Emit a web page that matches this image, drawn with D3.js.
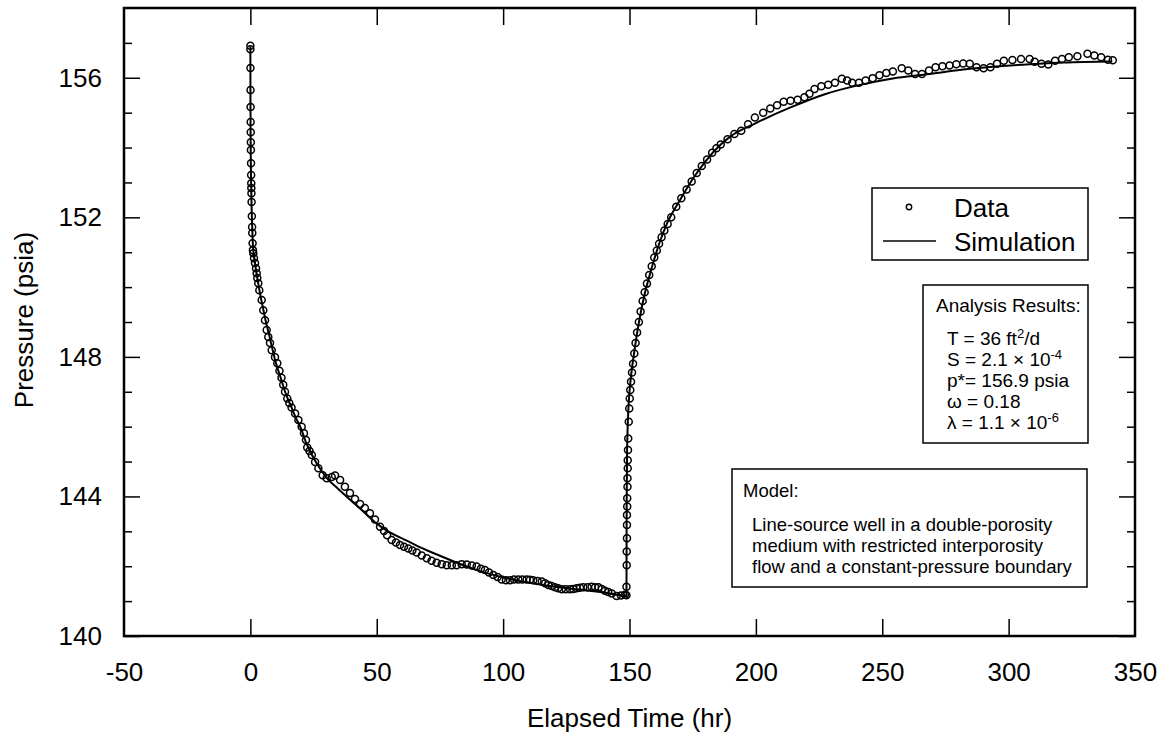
<!DOCTYPE html>
<html>
<head>
<meta charset="utf-8">
<script src="https://cdn.jsdelivr.net/npm/d3@7"></script>
<style>
  body { margin: 0; background: #fff; }
  svg { font-family: "Liberation Sans", Arial, Helvetica, sans-serif; }
</style>
</head>
<body>
<svg id="chart" width="1166" height="742"></svg>
<script>
// measured data (elapsed time, hr / pressure, psia)
const dataTime = [
  0, 0.01, 0.03, 0.06, 0.09, 0.12, 0.15, 0.18, 0.21, 0.26, 0.31, 0.35, 0.38, 0.42, 0.48, 0.58, 0.68, 0.75, 0.88, 1.0,
  1.16, 1.43, 1.83, 2.23, 2.5, 2.74, 3.13, 3.53, 4.48, 5.11, 5.79, 6.46, 7.09, 7.76, 8.44, 9.74, 10.65, 11.5, 12.3, 13.0,
  13.7, 14.6, 15.4, 16.3, 17.7, 19.0, 20.3, 21.2, 22.0, 22.5, 23.4, 24.3, 25.6, 26.9, 28.6, 30.2, 32.2, 33.5, 35.5, 37.4,
  39.4, 41.4, 43.4, 45.3, 47.3, 49.3, 51.3, 52.9, 54.1, 55.9, 57.6, 59.2, 60.8, 62.5, 64.1, 65.8, 67.8, 69.8, 71.7, 73.7,
  75.7, 77.7, 79.7, 81.6, 83.6, 85.6, 87.6, 89.5, 91.2, 92.8, 94.4, 96.1, 97.8, 99.4, 101.1, 102.7, 104.3, 106.0, 107.6, 109.3,
  110.6, 111.9, 113.6, 115.3, 116.6, 117.9, 119.2, 120.5, 121.8, 123.2, 124.8, 126.5, 127.8, 129.1, 130.4, 131.7, 133.4, 135.0, 136.4, 137.7,
  139.0, 140.3, 141.6, 143.0, 144.9, 146.6, 148.2,
  148.8, 148.8, 148.9, 148.9, 149.0, 149.0, 149.0, 149.1, 149.1, 149.2, 149.2, 149.3, 149.3, 149.4, 149.5, 149.7, 149.9, 150.1, 150.3, 150.6,
  151.0, 151.4, 151.9, 152.4, 153.0, 153.7, 154.4, 155.2, 156.0, 156.9, 157.8, 158.8, 159.8, 160.8, 161.7, 162.7, 163.8, 165.1, 166.5, 168.5,
  170.5, 172.6, 174.6, 176.6, 178.6, 180.7, 182.7, 184.4, 186.1, 188.8, 191.5, 194.2, 196.9, 199.6, 202.9, 205.7, 208.4, 211.0, 213.7, 216.5,
  219.2, 221.2, 223.2, 225.9, 228.6, 231.3, 234.0, 236.1, 238.1, 240.8, 243.4, 246.2, 248.9, 251.6, 254.2, 257.7, 260.3, 263.0, 265.7, 268.5,
  271.1, 273.8, 276.6, 279.3, 282.0, 284.6, 287.3, 290.1, 292.8, 295.4, 298.1, 301.5, 304.9, 308.3, 310.3, 313.0, 315.7, 318.4, 321.1, 323.8,
  327.2, 331.2, 333.9, 336.6, 339.3, 341.2
];
const dataPressure = [
  156.92, 156.82, 156.28, 155.65, 155.16, 154.73, 154.44, 154.15, 153.93, 153.55, 153.21, 152.98, 152.84, 152.69, 152.44, 152.03, 151.72, 151.55, 151.26, 151.06,
  150.97, 150.83, 150.69, 150.54, 150.40, 150.26, 150.11, 149.91, 149.63, 149.34, 149.05, 148.77, 148.57, 148.40, 148.19, 147.99, 147.82, 147.6, 147.4, 147.2,
  147.0, 146.81, 146.68, 146.55, 146.38, 146.19, 146.0, 145.81, 145.62, 145.4, 145.3, 145.19, 144.99, 144.81, 144.61, 144.52, 144.56, 144.6, 144.47, 144.28,
  144.10, 143.93, 143.78, 143.67, 143.52, 143.34, 143.13, 143.01, 142.89, 142.75, 142.68, 142.61, 142.56, 142.51, 142.45, 142.39, 142.31, 142.23, 142.16, 142.10,
  142.06, 142.03, 142.03, 142.03, 142.06, 142.05, 142.02, 141.99, 141.93, 141.89, 141.82, 141.75, 141.69, 141.62, 141.60, 141.60, 141.62, 141.62, 141.62, 141.62,
  141.61, 141.60, 141.58, 141.56, 141.51, 141.46, 141.43, 141.40, 141.37, 141.34, 141.34, 141.34, 141.35, 141.37, 141.38, 141.40, 141.40, 141.41, 141.40, 141.40,
  141.35, 141.30, 141.26, 141.22, 141.15, 141.16, 141.18,
  141.17, 141.41, 142.03, 142.42, 142.80, 143.18, 143.47, 143.71, 143.95, 144.28, 144.52, 144.81, 145.04, 145.33, 145.66, 146.14, 146.52, 146.81, 147.05, 147.29,
  147.55, 147.8, 148.1, 148.4, 148.7, 149.0, 149.3, 149.6, 149.85, 150.1, 150.35, 150.6, 150.85, 151.05, 151.24, 151.43, 151.62, 151.81, 152.0, 152.3,
  152.55, 152.8, 153.03, 153.27, 153.47, 153.66, 153.85, 153.98, 154.09, 154.24, 154.39, 154.48, 154.67, 154.86, 155.0, 155.12, 155.21, 155.31, 155.34, 155.37,
  155.44, 155.54, 155.68, 155.76, 155.8, 155.86, 155.97, 155.92, 155.86, 155.86, 155.92, 155.99, 156.07, 156.14, 156.18, 156.27, 156.21, 156.11, 156.11, 156.21,
  156.3, 156.33, 156.35, 156.39, 156.41, 156.4, 156.3, 156.27, 156.3, 156.4, 156.49, 156.51, 156.54, 156.54, 156.46, 156.4, 156.38, 156.49, 156.54, 156.59,
  156.62, 156.69, 156.64, 156.59, 156.52, 156.5
];

// simulated curve
const simTime = [
  0, 0.02, 0.05, 0.1, 0.2, 0.3, 0.5, 0.7, 1.0, 1.5, 2, 3, 4, 5, 6, 7, 8, 10, 12, 14,
  16, 18, 20, 22, 25, 28, 30, 35, 40, 45, 50, 55, 60, 65, 70, 75, 80, 90, 100, 110,
  120, 130, 140, 148.8,
  148.85, 148.9, 149.0, 149.2, 149.5, 150, 150.6, 151.5, 152.5, 154, 156, 158, 160, 162, 165, 170, 175, 180, 186, 190,
  200, 213.7, 227.3, 240.8, 254.2, 267.8, 281.3, 294.8, 308.3, 321.8, 341
];
const simPressure = [
  156.9, 156.0, 155.1, 154.3, 153.45, 152.95, 152.25, 151.75, 151.2, 150.85, 150.6, 150.15, 149.75, 149.4, 149.05, 148.75, 148.45, 147.85, 147.4, 146.95,
  146.6, 146.25, 145.95, 145.55, 145.1, 144.75, 144.55, 144.2, 143.87, 143.55, 143.22, 142.98, 142.8, 142.62, 142.45, 142.3, 142.15, 141.88, 141.68, 141.53,
  141.42, 141.33, 141.25, 141.15,
  143.0, 144.0, 145.0, 145.8, 146.4, 147.0, 147.45, 147.95, 148.45, 149.1, 149.8, 150.35, 150.85, 151.3, 151.85, 152.5, 153.1, 153.6, 154.08, 154.32,
  154.7, 155.15, 155.53, 155.79, 155.98, 156.1, 156.23, 156.32, 156.39, 156.44, 156.47
];

const xTicks = [-50, 0, 50, 100, 150, 200, 250, 300, 350];
const yTicks = [140, 144, 148, 152, 156];
const yMinorTicks = [141, 142, 143, 145, 146, 147, 149, 150, 151, 153, 154, 155, 157];

const analysisLines = [
  ["T = 36 ft", "2", "/d"],
  ["S = 2.1 \u00d7 10", "-4", ""],
  ["p*= 156.9 psia", "", ""],
  ["\u03c9 = 0.18", "", ""],
  ["\u03bb = 1.1 \u00d7 10", "-6", ""]
];
const modelLines = [
  "Line-source well in a double-porosity",
  "medium with restricted interporosity",
  "flow and a constant-pressure boundary"
];

const svg = d3.select("#chart");
const plotLeft = 124, plotRight = 1135, plotTop = 8, plotBottom = 636;

const x = d3.scaleLinear().domain([-50, 350]).range([plotLeft, plotRight]);
const y = d3.scaleLinear().domain([140, 158]).range([plotBottom, plotTop]);

const data = dataTime.map((t, i) => ({t: t, p: dataPressure[i]}));
const sim = simTime.map((t, i) => ({t: t, p: simPressure[i]}));

// axes, ticks pointing inward
const inner = xTicks.filter(d => d > -50 && d < 350);

svg.append("g")
  .attr("transform", `translate(0,${plotBottom})`)
  .call(d3.axisBottom(x).tickValues(xTicks).tickSize(0).tickPadding(27).tickFormat(d => String(d)))
  .call(g => g.select(".domain").remove())
  .call(g => g.selectAll("text").attr("font-size", 26).attr("fill", "#000"));
svg.append("g")
  .attr("transform", `translate(0,${plotBottom})`)
  .call(d3.axisBottom(x).tickValues(inner).tickSize(-17).tickFormat(""))
  .call(g => g.select(".domain").remove());
svg.append("g")
  .attr("transform", `translate(0,${plotTop})`)
  .call(d3.axisTop(x).tickValues(inner).tickSize(-17).tickFormat(""))
  .call(g => g.select(".domain").remove());

svg.append("g")
  .attr("transform", `translate(${plotLeft},0)`)
  .call(d3.axisLeft(y).tickValues(yTicks).tickSize(-16).tickPadding(22))
  .call(g => g.select(".domain").remove())
  .call(g => g.selectAll("text").attr("font-size", 26).attr("fill", "#000"));
svg.append("g")
  .attr("transform", `translate(${plotLeft},0)`)
  .call(d3.axisLeft(y).tickValues(yMinorTicks).tickSize(-8).tickFormat(""))
  .call(g => g.select(".domain").remove());
svg.append("g")
  .attr("transform", `translate(${plotRight},0)`)
  .call(d3.axisRight(y).tickValues(yTicks).tickSize(-16).tickFormat(""))
  .call(g => g.select(".domain").remove());
svg.append("g")
  .attr("transform", `translate(${plotRight},0)`)
  .call(d3.axisRight(y).tickValues(yMinorTicks).tickSize(-8).tickFormat(""))
  .call(g => g.select(".domain").remove());

svg.selectAll(".tick line").attr("stroke", "#000").attr("stroke-width", 1.5);
svg.selectAll("g").attr("font-family", null);

svg.append("rect")
  .attr("x", plotLeft).attr("y", plotTop)
  .attr("width", plotRight - plotLeft).attr("height", plotBottom - plotTop)
  .attr("fill", "none").attr("stroke", "#000").attr("stroke-width", 2.5);

// axis titles
svg.append("text")
  .attr("x", (plotLeft + plotRight) / 2).attr("y", 727)
  .attr("text-anchor", "middle").attr("font-size", 26)
  .text("Elapsed Time (hr)");
svg.append("text")
  .attr("transform", "translate(33,320) rotate(-90)")
  .attr("text-anchor", "middle").attr("font-size", 26)
  .text("Pressure (psia)");

// simulation line
const line = d3.line()
  .x(d => x(d.t))
  .y(d => y(d.p))
  .curve(d3.curveMonotoneX);

svg.append("path")
  .datum(sim)
  .attr("fill", "none")
  .attr("stroke", "#000")
  .attr("stroke-width", 2)
  .attr("d", line);

// data circles
svg.append("g")
  .selectAll("circle")
  .data(data)
  .join("circle")
  .attr("cx", d => x(d.t))
  .attr("cy", d => y(d.p))
  .attr("r", 3.5)
  .attr("fill", "none")
  .attr("stroke", "#000")
  .attr("stroke-width", 1.5);

// legend
const leg = svg.append("g");
leg.append("rect").attr("x", 872).attr("y", 188).attr("width", 216).attr("height", 72)
  .attr("fill", "#fff").attr("stroke", "#000").attr("stroke-width", 1.5);
leg.append("circle").attr("cx", 909).attr("cy", 207).attr("r", 2.7)
  .attr("fill", "none").attr("stroke", "#000").attr("stroke-width", 1.4);
leg.append("text").attr("x", 954).attr("y", 217).attr("font-size", 26).text("Data");
leg.append("line").attr("x1", 883).attr("x2", 936).attr("y1", 241).attr("y2", 241)
  .attr("stroke", "#000").attr("stroke-width", 1.5);
leg.append("text").attr("x", 954).attr("y", 251).attr("font-size", 26).text("Simulation");

// analysis results box
const res = svg.append("g");
res.append("rect").attr("x", 923).attr("y", 285).attr("width", 165).attr("height", 158)
  .attr("fill", "#fff").attr("stroke", "#000").attr("stroke-width", 1.5);
res.append("text").attr("x", 936).attr("y", 312).attr("font-size", 19).text("Analysis Results:");
analysisLines.forEach((l, i) => {
  const t = res.append("text").attr("x", 947).attr("y", 345 + i * 21).attr("font-size", 19);
  t.append("tspan").text(l[0]);
  if (l[1]) t.append("tspan").attr("dy", -7).attr("font-size", 13).text(l[1]);
  if (l[2]) t.append("tspan").attr("dy", 7).text(l[2]);
});

// model box
const mod = svg.append("g");
mod.append("rect").attr("x", 732).attr("y", 469).attr("width", 355).attr("height", 118)
  .attr("fill", "#fff").attr("stroke", "#000").attr("stroke-width", 1.5);
mod.append("text").attr("x", 743).attr("y", 497).attr("font-size", 18.5).text("Model:");
modelLines.forEach((l, i) => {
  mod.append("text").attr("x", 752).attr("y", 531 + i * 21).attr("font-size", 18.5).text(l);
});
</script>
</body>
</html>
